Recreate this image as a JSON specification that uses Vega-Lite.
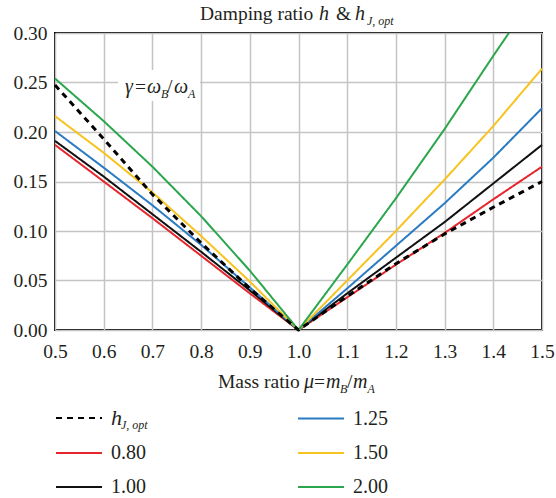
{
  "$schema": "https://vega.github.io/schema/vega-lite/v6.json",
  "width": 487,
  "height": 297,
  "autosize": {"type": "none"},
  "padding": {"left": 55, "top": 33, "right": 14, "bottom": 168},
  "background": "white",
  "config": {
    "view": {"stroke": "#000000", "strokeWidth": 2},
    "axis": {
      "grid": true,
      "gridColor": "#c4c4c4",
      "gridWidth": 1.5,
      "domain": false,
      "ticks": false,
      "labelFont": "Liberation Serif",
      "labelFontSize": 19.5,
      "labelColor": "#231f20",
      "labelOverlap": false,
      "labelFlush": false,
      "labelBound": false,
      "title": null
    },
    "text": {"font": "Liberation Serif", "color": "#231f20", "align": "left", "baseline": "alphabetic"}
  },
  "datasets": {
    "curves": [
      {"mu": 0.5, "h": 0.2475, "curve": "hJ"},
      {"mu": 0.6, "h": 0.193, "curve": "hJ"},
      {"mu": 0.7, "h": 0.137, "curve": "hJ"},
      {"mu": 0.8, "h": 0.088, "curve": "hJ"},
      {"mu": 0.9, "h": 0.042, "curve": "hJ"},
      {"mu": 1.0, "h": 0.0, "curve": "hJ"},
      {"mu": 1.1, "h": 0.034, "curve": "hJ"},
      {"mu": 1.2, "h": 0.067, "curve": "hJ"},
      {"mu": 1.3, "h": 0.097, "curve": "hJ"},
      {"mu": 1.4, "h": 0.124, "curve": "hJ"},
      {"mu": 1.5, "h": 0.15, "curve": "hJ"},

      {"mu": 0.5, "h": 0.187, "curve": "0.80"},
      {"mu": 0.6, "h": 0.15, "curve": "0.80"},
      {"mu": 0.7, "h": 0.113, "curve": "0.80"},
      {"mu": 0.8, "h": 0.075, "curve": "0.80"},
      {"mu": 0.9, "h": 0.037, "curve": "0.80"},
      {"mu": 1.0, "h": 0.0, "curve": "0.80"},
      {"mu": 1.1, "h": 0.033, "curve": "0.80"},
      {"mu": 1.2, "h": 0.066, "curve": "0.80"},
      {"mu": 1.3, "h": 0.098, "curve": "0.80"},
      {"mu": 1.4, "h": 0.132, "curve": "0.80"},
      {"mu": 1.5, "h": 0.165, "curve": "0.80"},

      {"mu": 0.5, "h": 0.191, "curve": "1.00"},
      {"mu": 0.6, "h": 0.155, "curve": "1.00"},
      {"mu": 0.7, "h": 0.117, "curve": "1.00"},
      {"mu": 0.8, "h": 0.079, "curve": "1.00"},
      {"mu": 0.9, "h": 0.04, "curve": "1.00"},
      {"mu": 1.0, "h": 0.0, "curve": "1.00"},
      {"mu": 1.1, "h": 0.037, "curve": "1.00"},
      {"mu": 1.2, "h": 0.073, "curve": "1.00"},
      {"mu": 1.3, "h": 0.109, "curve": "1.00"},
      {"mu": 1.4, "h": 0.148, "curve": "1.00"},
      {"mu": 1.5, "h": 0.187, "curve": "1.00"},

      {"mu": 0.5, "h": 0.201, "curve": "1.25"},
      {"mu": 0.6, "h": 0.164, "curve": "1.25"},
      {"mu": 0.7, "h": 0.126, "curve": "1.25"},
      {"mu": 0.8, "h": 0.086, "curve": "1.25"},
      {"mu": 0.9, "h": 0.043, "curve": "1.25"},
      {"mu": 1.0, "h": 0.0, "curve": "1.25"},
      {"mu": 1.1, "h": 0.042, "curve": "1.25"},
      {"mu": 1.2, "h": 0.085, "curve": "1.25"},
      {"mu": 1.3, "h": 0.128, "curve": "1.25"},
      {"mu": 1.4, "h": 0.174, "curve": "1.25"},
      {"mu": 1.5, "h": 0.224, "curve": "1.25"},

      {"mu": 0.5, "h": 0.216, "curve": "1.50"},
      {"mu": 0.6, "h": 0.179, "curve": "1.50"},
      {"mu": 0.7, "h": 0.139, "curve": "1.50"},
      {"mu": 0.8, "h": 0.095, "curve": "1.50"},
      {"mu": 0.9, "h": 0.049, "curve": "1.50"},
      {"mu": 1.0, "h": 0.0, "curve": "1.50"},
      {"mu": 1.1, "h": 0.05, "curve": "1.50"},
      {"mu": 1.2, "h": 0.1, "curve": "1.50"},
      {"mu": 1.3, "h": 0.152, "curve": "1.50"},
      {"mu": 1.4, "h": 0.206, "curve": "1.50"},
      {"mu": 1.5, "h": 0.264, "curve": "1.50"},

      {"mu": 0.5, "h": 0.254, "curve": "2.00"},
      {"mu": 0.6, "h": 0.211, "curve": "2.00"},
      {"mu": 0.7, "h": 0.165, "curve": "2.00"},
      {"mu": 0.8, "h": 0.115, "curve": "2.00"},
      {"mu": 0.9, "h": 0.06, "curve": "2.00"},
      {"mu": 1.0, "h": 0.0, "curve": "2.00"},
      {"mu": 1.1, "h": 0.066, "curve": "2.00"},
      {"mu": 1.2, "h": 0.133, "curve": "2.00"},
      {"mu": 1.3, "h": 0.203, "curve": "2.00"},
      {"mu": 1.4, "h": 0.277, "curve": "2.00"},
      {"mu": 1.432, "h": 0.3, "curve": "2.00"}
    ]
  },
  "layer": [
    {
      "data": {"values": [{"x1": 0.6294, "x2": 0.7977, "y1": 0.2313, "y2": 0.2626}]},
      "mark": {"type": "rect", "fill": "white"},
      "encoding": {
        "x": {"field": "x1", "type": "quantitative", "scale": {"domain": [0.5, 1.5], "nice": false, "zero": false}, "axis": {"values": [0.5, 0.6, 0.7, 0.8, 0.9, 1.0, 1.1, 1.2, 1.3, 1.4, 1.5], "format": ".1f", "labelPadding": 12}},
        "x2": {"field": "x2"},
        "y": {"field": "y1", "type": "quantitative", "scale": {"domain": [0, 0.3], "nice": false, "zero": false}, "axis": {"values": [0, 0.05, 0.1, 0.15, 0.2, 0.25, 0.3], "format": ".2f", "labelPadding": 8}},
        "y2": {"field": "y2"}
      }
    },
    {
      "data": {"name": "curves"},
      "transform": [{"filter": "datum.curve != 'hJ'"}],
      "mark": {"type": "line", "strokeWidth": 2, "strokeCap": "butt", "strokeJoin": "round"},
      "encoding": {
        "x": {"field": "mu", "type": "quantitative", "scale": {"domain": [0.5, 1.5], "nice": false, "zero": false}},
        "y": {"field": "h", "type": "quantitative", "scale": {"domain": [0, 0.3], "nice": false, "zero": false}},
        "color": {
          "field": "curve",
          "type": "nominal",
          "scale": {
            "domain": ["hJ", "0.80", "1.00", "1.25", "1.50", "2.00"],
            "range": ["#000000", "#e5262c", "#111111", "#2a7bc1", "#f7c31f", "#2ba64d"]
          },
          "legend": {
            "title": null,
            "orient": "none",
            "legendX": 13,
            "legendY": 374,
            "columns": 2,
            "padding": 0,
            "symbolType": "M-2.3,0L2.3,0",
            "symbolSize": 400,
            "symbolStrokeWidth": 1.8,
            "labelFont": "Liberation Serif",
            "labelFontSize": 20,
            "labelColor": "#231f20",
            "labelOffset": 21,
            "rowPadding": 13,
            "columnPadding": 148,
            "labelExpr": "datum.label == 'hJ' ? 'h' : datum.label",
            "encode": {"labels": {"update": {"fontStyle": {"signal": "datum.value == 'hJ' ? 'italic' : 'normal'"}, "fontSize": {"signal": "datum.value == 'hJ' ? 22 : 20"}}}}
          }
        },
        "strokeDash": {
          "field": "curve",
          "type": "nominal",
          "scale": {
            "domain": ["hJ", "0.80", "1.00", "1.25", "1.50", "2.00"],
            "range": [[6, 5], [1, 0], [1, 0], [1, 0], [1, 0], [1, 0]]
          }
        },
        "order": {"field": "mu", "type": "quantitative"}
      }
    },
    {
      "data": {"name": "curves"},
      "transform": [{"filter": "datum.curve == 'hJ'"}],
      "mark": {"type": "line", "strokeWidth": 3, "strokeCap": "butt", "strokeJoin": "round"},
      "encoding": {
        "x": {"field": "mu", "type": "quantitative", "scale": {"domain": [0.5, 1.5], "nice": false, "zero": false}},
        "y": {"field": "h", "type": "quantitative", "scale": {"domain": [0, 0.3], "nice": false, "zero": false}},
        "color": {"field": "curve", "type": "nominal"},
        "strokeDash": {"field": "curve", "type": "nominal"},
        "order": {"field": "mu", "type": "quantitative"}
      }
    },
    {
      "data": {"values": [
        {"t": "Damping ratio", "x": 0.7977, "y": 0.3131},
        {"t": "&", "x": 1.077, "y": 0.3131},
        {"t": "Mass ratio", "x": 0.8347, "y": -0.0586},
        {"t": "=", "x": 1.0318, "y": -0.0586},
        {"t": "/", "x": 1.0996, "y": -0.0586},
        {"t": "=", "x": 0.6643, "y": 0.2394},
        {"t": "/", "x": 0.73, "y": 0.2394}
      ]},
      "mark": {"type": "text", "fontSize": 19.5},
      "encoding": {
        "x": {"field": "x", "type": "quantitative", "scale": {"domain": [0.5, 1.5], "nice": false, "zero": false}},
        "y": {"field": "y", "type": "quantitative", "scale": {"domain": [0, 0.3], "nice": false, "zero": false}},
        "text": {"field": "t"}
      }
    },
    {
      "data": {"values": [
        {"t": "h", "x": 1.0421, "y": 0.3131},
        {"t": "h", "x": 1.116, "y": 0.3131},
        {"t": "μ", "x": 1.0113, "y": -0.0586},
        {"t": "m", "x": 1.0565, "y": -0.0586},
        {"t": "m", "x": 1.1119, "y": -0.0586},
        {"t": "γ", "x": 0.6437, "y": 0.2394},
        {"t": "ω", "x": 0.6889, "y": 0.2394},
        {"t": "ω", "x": 0.7444, "y": 0.2394}
      ]},
      "mark": {"type": "text", "fontSize": 20, "fontStyle": "italic"},
      "encoding": {
        "x": {"field": "x", "type": "quantitative", "scale": {"domain": [0.5, 1.5], "nice": false, "zero": false}},
        "y": {"field": "y", "type": "quantitative", "scale": {"domain": [0, 0.3], "nice": false, "zero": false}},
        "text": {"field": "t"}
      }
    },
    {
      "data": {"values": [
        {"t": "J, opt", "x": 1.1407, "y": 0.3081},
        {"t": "B", "x": 1.0852, "y": -0.0636},
        {"t": "A", "x": 1.1417, "y": -0.0636},
        {"t": "B", "x": 0.7177, "y": 0.2343},
        {"t": "A", "x": 0.7731, "y": 0.2343},
        {"t": "J, opt", "x": 0.6355, "y": -0.1}
      ]},
      "mark": {"type": "text", "fontSize": 12, "fontStyle": "italic"},
      "encoding": {
        "x": {"field": "x", "type": "quantitative", "scale": {"domain": [0.5, 1.5], "nice": false, "zero": false}},
        "y": {"field": "y", "type": "quantitative", "scale": {"domain": [0, 0.3], "nice": false, "zero": false}},
        "text": {"field": "t"}
      }
    }
  ]
}
